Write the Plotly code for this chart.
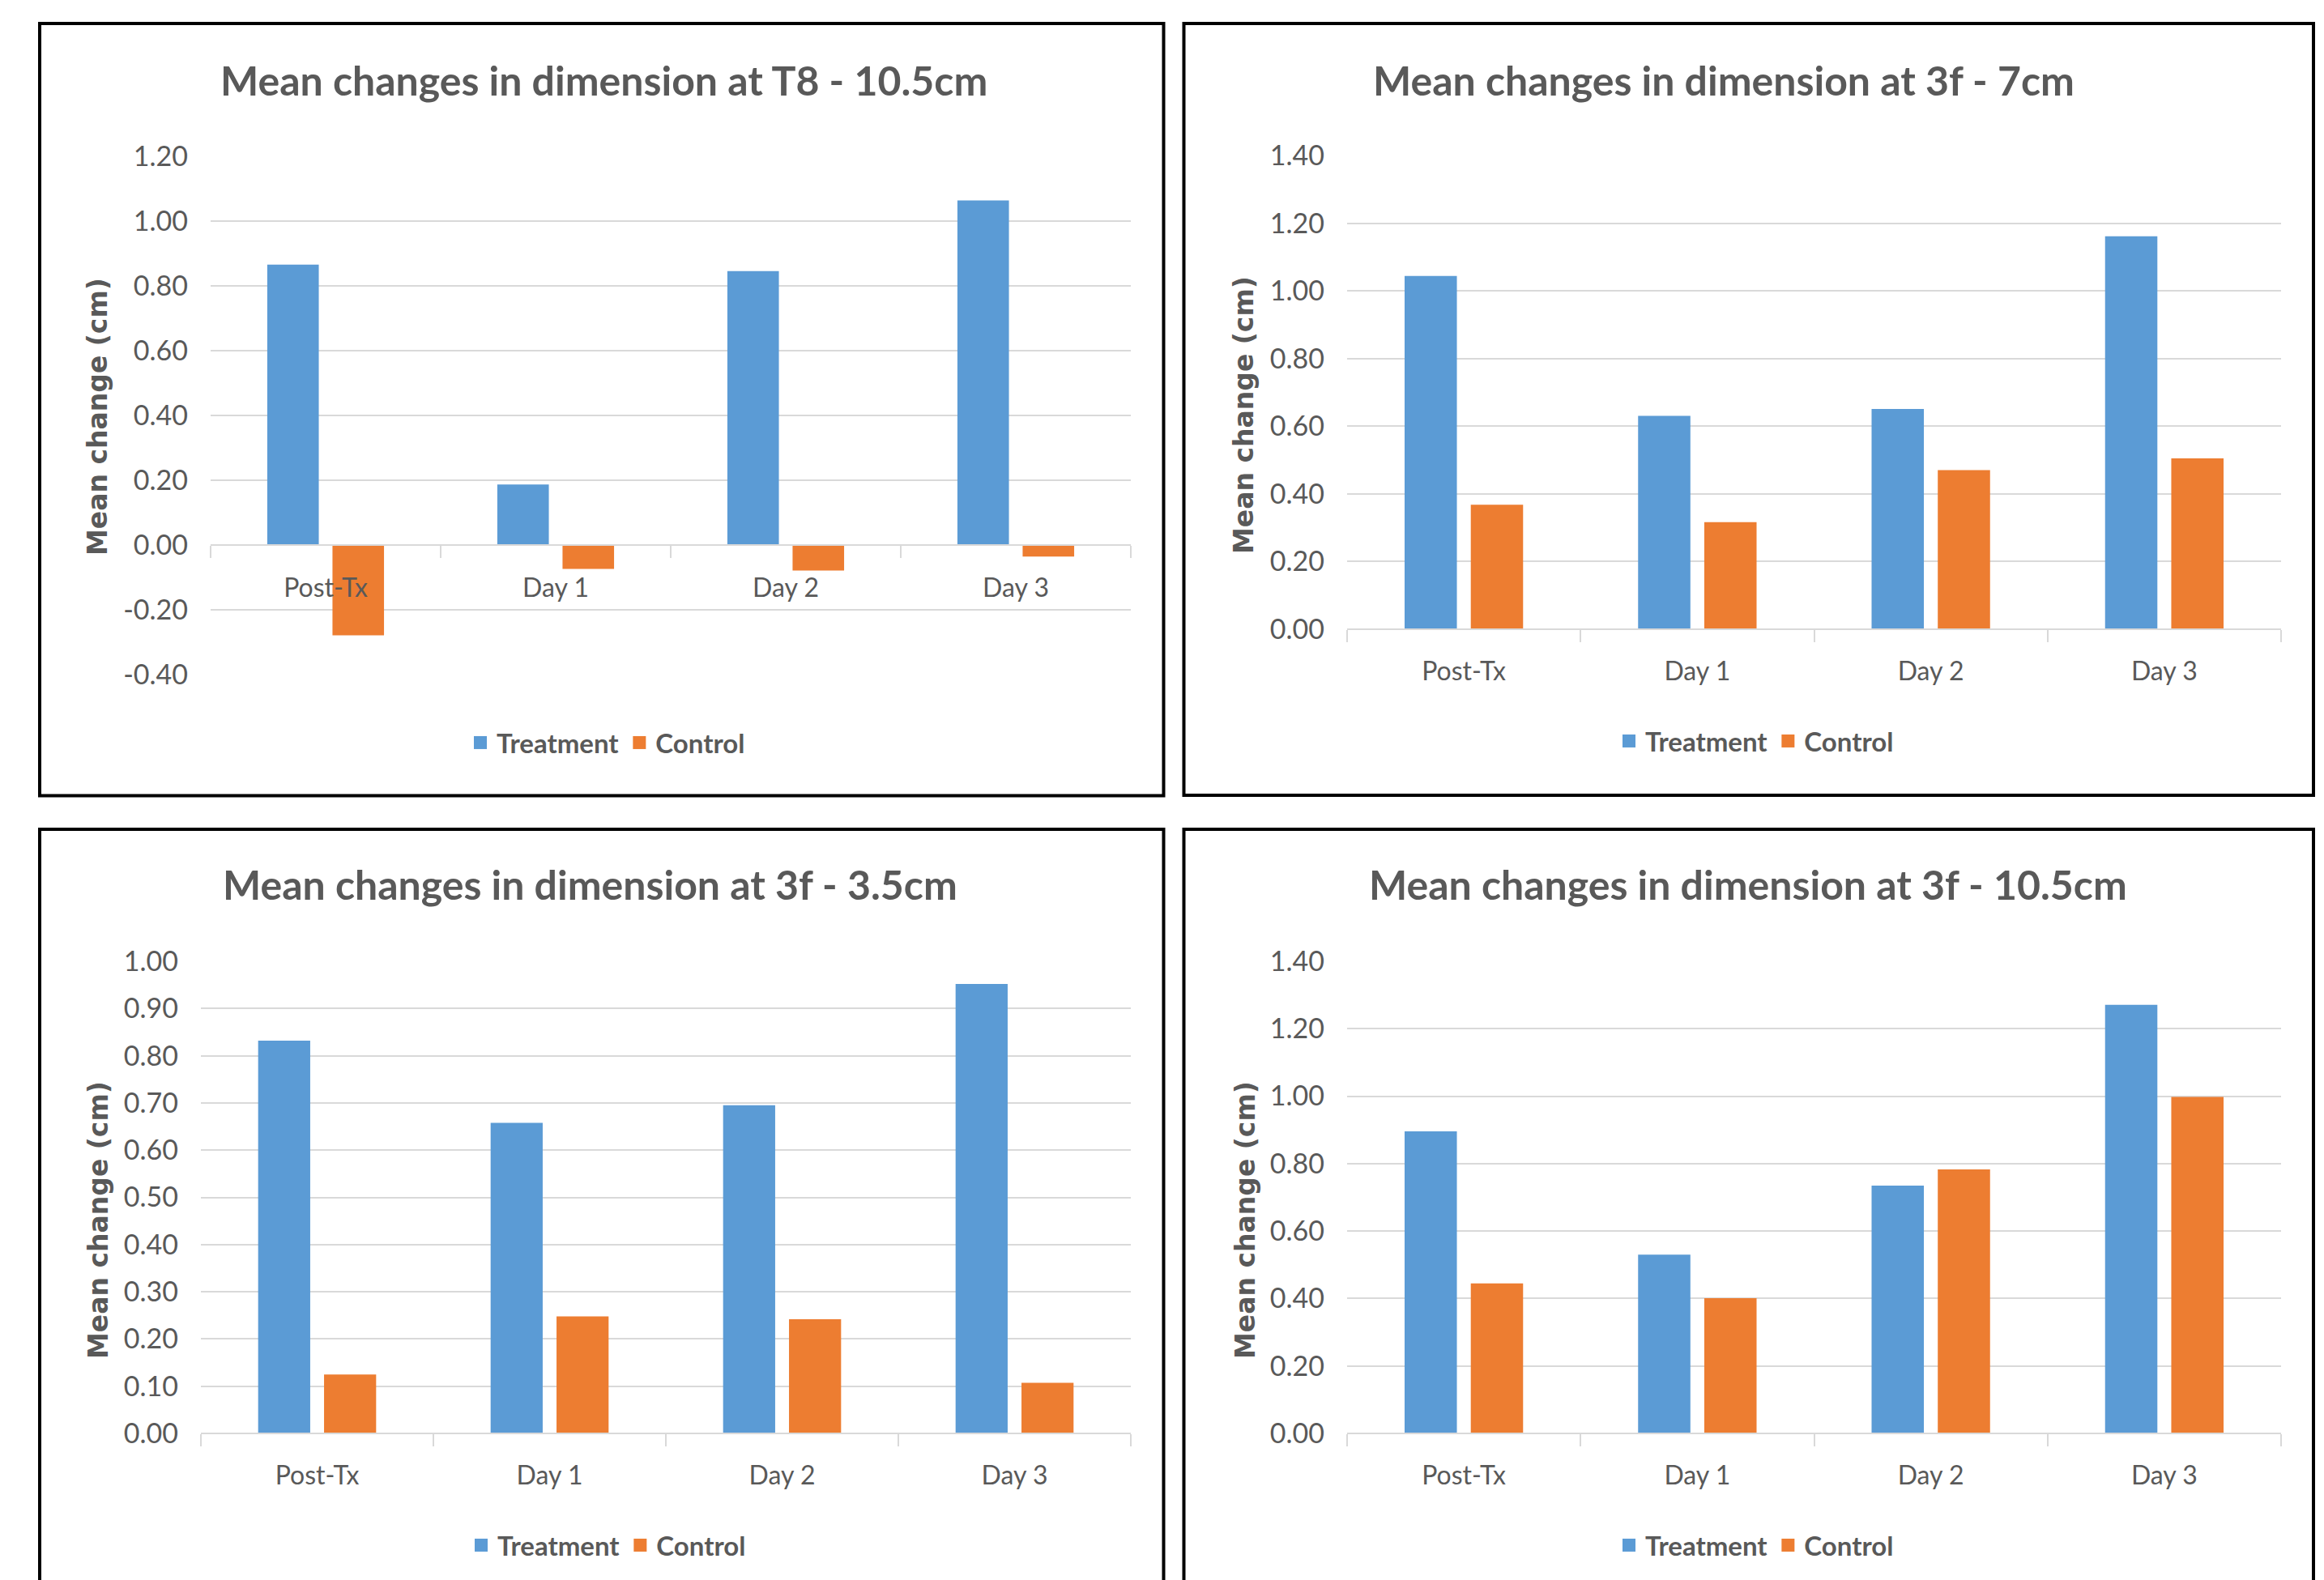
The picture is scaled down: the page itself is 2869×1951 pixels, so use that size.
import plotly.graph_objects as go

# ---------------- data ----------------
categories = ["Post-Tx", "Day 1", "Day 2", "Day 3"]

t8_105_treatment = [0.865, 0.187, 0.845, 1.063]
t8_105_control = [-0.278, -0.073, -0.078, -0.035]

f3_7_treatment = [1.045, 0.631, 0.651, 1.162]
f3_7_control = [0.368, 0.316, 0.470, 0.505]

f3_35_treatment = [0.832, 0.658, 0.695, 0.952]
f3_35_control = [0.125, 0.248, 0.242, 0.107]

f3_105_treatment = [0.896, 0.530, 0.735, 1.271]
f3_105_control = [0.445, 0.401, 0.783, 0.998]

ticks_t8_105 = [-0.4, -0.2, 0.0, 0.2, 0.4, 0.6, 0.8, 1.0, 1.2]
ticks_f3_7 = [0.0, 0.2, 0.4, 0.6, 0.8, 1.0, 1.2, 1.4]
ticks_f3_35 = [0.0, 0.1, 0.2, 0.3, 0.4, 0.5, 0.6, 0.7, 0.8, 0.9, 1.0]
ticks_f3_105 = [0.0, 0.2, 0.4, 0.6, 0.8, 1.0, 1.2, 1.4]

titles = [
    "Mean changes in dimension at T8 - 10.5cm",
    "Mean changes in dimension at 3f - 7cm",
    "Mean changes in dimension at 3f - 3.5cm",
    "Mean changes in dimension at 3f - 10.5cm",
]
series_names = ["Treatment", "Control"]
y_title = "Mean change (cm)"

# ---------------- styling / layout (pixels) ----------------
W, H = 2869, 1951
BLUE = "#5B9BD5"
ORANGE = "#ED7D31"
GREY_TEXT = "#595959"
GRID = "#D9D9D9"
FONT = "Lato, 'Open Sans', sans-serif"


def fx(px):
    return px / W


def fy(py):
    return 1 - py / H


panels = [
    dict(treat=t8_105_treatment, ctrl=t8_105_control, ticks=ticks_t8_105,
         x0=260, x1=1396, ytop=192.7, ybot=833.3,
         title_cx=745, title_cy=99, ytitle_cx=120, ytitle_cy=515,
         leg_cx=749, leg_cy=917, box=(49, 29, 1436.5, 982.5)),
    dict(treat=f3_7_treatment, ctrl=f3_7_control, ticks=ticks_f3_7,
         x0=1663, x1=2816, ytop=192.5, ybot=776.7,
         title_cx=2128, title_cy=99, ytitle_cx=1535, ytitle_cy=513,
         leg_cx=2167, leg_cy=915, box=(1461.5, 29, 2856, 982)),
    dict(treat=f3_35_treatment, ctrl=f3_35_control, ticks=ticks_f3_35,
         x0=248, x1=1396, ytop=1187, ybot=1770,
         title_cx=728, title_cy=1092, ytitle_cx=121, ytitle_cy=1507,
         leg_cx=750, leg_cy=1908, box=(49, 1024, 1436.5, 2010)),
    dict(treat=f3_105_treatment, ctrl=f3_105_control, ticks=ticks_f3_105,
         x0=1663, x1=2816, ytop=1187, ybot=1770,
         title_cx=2158, title_cy=1092, ytitle_cx=1537, ytitle_cy=1507,
         leg_cx=2167, leg_cy=1908, box=(1461.5, 1024, 2856, 2010)),
]

fig = go.Figure()
layout = dict(
    width=W, height=H,
    margin=dict(l=0, r=0, t=0, b=0, autoexpand=False),
    paper_bgcolor="white", plot_bgcolor="white",
    bargap=0.433, bargroupgap=0.21,
    barmode="group",
    annotations=[], shapes=[],
    font=dict(family=FONT, color=GREY_TEXT),
)

for i, p in enumerate(panels):
    n = "" if i == 0 else str(i + 1)
    xa, ya = "x" + n, "y" + n
    leg = "legend" + n

    for name, vals, col in ((series_names[0], p["treat"], BLUE),
                            (series_names[1], p["ctrl"], ORANGE)):
        fig.add_trace(go.Bar(
            x=categories, y=vals, name=name, marker=dict(color=col, line=dict(width=0)),
            xaxis=xa, yaxis=ya, showlegend=False, hoverinfo="skip",
        ))
        # legend key: square swatch matching the series colour
        fig.add_trace(go.Scatter(
            x=[None], y=[None], mode="markers", name=name,
            marker=dict(symbol="square", size=16, color=col),
            xaxis=xa, yaxis=ya, legend=leg, hoverinfo="skip",
        ))

    ymin, ymax = p["ticks"][0], p["ticks"][-1]
    dom_y = [fy(p["ybot"]), fy(p["ytop"])]
    zero_pos = dom_y[0] + (0 - ymin) / (ymax - ymin) * (dom_y[1] - dom_y[0])

    layout["xaxis" + n] = dict(
        domain=[fx(p["x0"]), fx(p["x1"])],
        anchor="free", position=zero_pos,
        type="category", categoryorder="array", categoryarray=categories,
        range=[-0.5, len(categories) - 0.5],
        showline=True, linecolor=GRID, linewidth=2,
        ticks="outside", tickson="boundaries", ticklen=15, tickwidth=2, tickcolor=GRID,
        showgrid=False, zeroline=False, automargin=False,
        tickfont=dict(family=FONT, size=32, color=GREY_TEXT),
        ticklabelstandoff=24,
        layer="above traces",
    )
    layout["yaxis" + n] = dict(
        domain=dom_y, anchor=xa,
        range=[ymin, ymax],
        tickvals=p["ticks"], ticktext=[f"{v:.2f}" for v in p["ticks"]],
        showgrid=True, gridcolor=GRID, gridwidth=2,
        zeroline=False, showline=False, ticks="", automargin=False,
        tickfont=dict(family=FONT, size=34, color=GREY_TEXT),
        ticklabelstandoff=27,
    )
    layout[leg] = dict(
        orientation="h", x=fx(p["leg_cx"]), y=fy(p["leg_cy"]),
        xanchor="center", yanchor="middle",
        font=dict(family=FONT, size=33, color=GREY_TEXT, weight="bold"),
        bgcolor="rgba(0,0,0,0)", itemclick=False, itemdoubleclick=False,
        itemsizing="trace", itemwidth=30,
    )

    # chart title
    layout["annotations"].append(dict(
        text=titles[i], xref="paper", yref="paper",
        x=fx(p["title_cx"]), y=fy(p["title_cy"]),
        xanchor="center", yanchor="middle", showarrow=False,
        font=dict(family=FONT, size=50, color=GREY_TEXT, weight="bold"),
    ))
    # vertical axis title
    layout["annotations"].append(dict(
        text=y_title, xref="paper", yref="paper",
        x=fx(p["ytitle_cx"]), y=fy(p["ytitle_cy"]),
        xanchor="center", yanchor="middle", showarrow=False, textangle=-90,
        font=dict(family="'DejaVu Sans', sans-serif", size=33, color=GREY_TEXT, weight="bold"),
    ))
    # black frame around each chart
    bx0, by0, bx1, by1 = p["box"]
    layout["shapes"].append(dict(
        type="rect", xref="paper", yref="paper",
        x0=fx(bx0), x1=fx(bx1), y0=fy(by1), y1=fy(by0),
        line=dict(color="black", width=4), fillcolor="rgba(0,0,0,0)", layer="above",
    ))

fig.update_layout(**layout)
fig.write_html("out.html")
